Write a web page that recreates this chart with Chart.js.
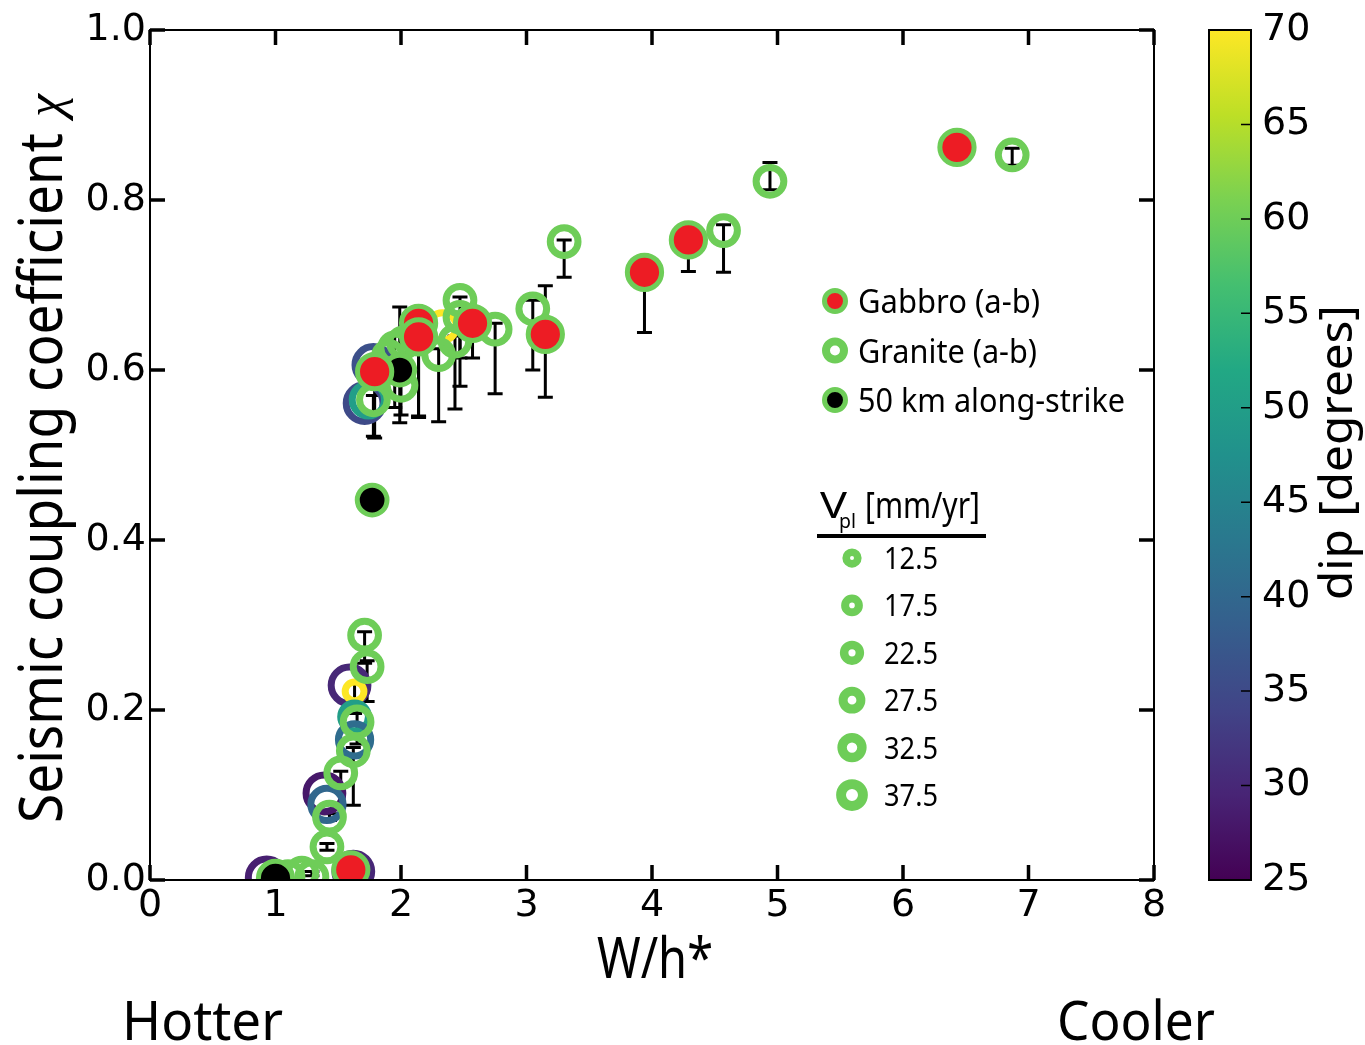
<!DOCTYPE html>
<html>
<head>
<meta charset="utf-8">
<script src="https://cdn.jsdelivr.net/npm/chart.js@4.4.0/dist/chart.umd.min.js"></script>
<style>
  html, body { margin: 0; padding: 0; background: #fff; }
</style>
</head>
<body>
<canvas id="acople" width="1365" height="1045"></canvas>
<script>
// ticks
const xTicks = [0, 1, 2, 3, 4, 5, 6, 7, 8];
const yTicks = [0, 0.2, 0.4, 0.6, 0.8, 1.0];
const dipTicks = [25, 30, 35, 40, 45, 50, 55, 60, 65, 70];

// Gabbro (a-b): W/h*, chi, error bar ends, dip [deg], Vpl [mm/yr]
const gabbroX   = [6.43, 4.29, 3.94, 3.15, 2.57, 2.14, 2.14, 1.79, 1.60];
const gabbroY   = [0.862, 0.753, 0.715, 0.642, 0.655, 0.655, 0.639, 0.598, 0.012];
const gabbroLo  = [0.855, 0.716, 0.644, 0.568, 0.614, 0.544, 0.546, 0.520, null];
const gabbroHi  = [0.868, 0.760, 0.720, 0.699, 0.662, 0.660, 0.645, 0.604, null];
const gabbroDip = [60, 60, 60, 60, 60, 60, 60, 60, 60];
const gabbroVpl = [32.5, 32.5, 32.5, 32.5, 32.5, 32.5, 32.5, 32.5, 32.5];

// Granite (a-b)
const graniteX   = [6.87, 4.94, 4.57, 3.30, 3.05, 2.75, 2.47, 2.47, 2.43, 2.30, 2.02, 1.95, 1.90, 2.00, 1.78,
                    1.71, 1.73, 1.65, 1.62, 1.52, 1.43, 1.41, 1.10, 1.21, 1.29];
const graniteY   = [0.853, 0.822, 0.764, 0.751, 0.672, 0.648, 0.682, 0.662, 0.634, 0.618, 0.632, 0.626, 0.616, 0.582, 0.565,
                    0.288, 0.251, 0.186, 0.152, 0.126, 0.074, 0.039, 0.004, 0.008, 0.004];
const graniteLo  = [0.841, 0.812, 0.715, 0.709, 0.600, 0.572, 0.581, 0.614, 0.554, 0.539, null, 0.556, null, 0.547, 0.522,
                    0.255, 0.210, 0.160, 0.088, 0.110, 0.070, 0.035, null, null, 0.005];
const graniteHi  = [0.861, 0.844, 0.771, 0.753, 0.682, 0.655, 0.686, 0.668, 0.640, 0.625, null, 0.640, null, 0.590, 0.570,
                    0.292, 0.258, 0.200, 0.156, 0.128, 0.078, 0.043, null, null, 0.010];
const graniteDip = [60, 60, 60, 60, 60, 60, 60, 60, 60, 60, 60, 60, 60, 60, 60,
                    60, 60, 60, 60, 60, 60, 60, 60, 60, 60];
const graniteVpl = [27.5, 27.5, 27.5, 27.5, 27.5, 27.5, 27.5, 27.5, 27.5, 27.5, 27.5, 27.5, 27.5, 27.5, 27.5,
                    27.5, 27.5, 27.5, 27.5, 27.5, 27.5, 27.5, 27.5, 27.5, 27.5];

// 50 km along-strike
const strikeX   = [1.99, 1.77, 1.00];
const strikeY   = [0.600, 0.447, 0.002];
const strikeLo  = [0.538, null, null];
const strikeHi  = [0.674, null, null];
const strikeDip = [60, 60, 60];
const strikeVpl = [27.5, 27.5, 32.5];

// runs with other dips
const dipRunX   = [1.71, 1.74, 1.78, 2.33, 1.59, 1.63, 1.63, 1.63, 1.39, 1.41, 0.93, 1.62];
const dipRunY   = [0.561, 0.565, 0.606, 0.651, 0.229, 0.222, 0.192, 0.165, 0.102, 0.089, 0.003, 0.010];
const dipRunLo  = [null, null, null, null, null, 0.196, null, null, null, null, null, null];
const dipRunHi  = [null, null, null, null, null, 0.232, null, null, null, null, null, null];
const dipRunDip = [35, 50, 36, 70, 30, 70, 50, 41, 28, 40, 29, 30];
const dipRunVpl = [37.5, 32.5, 37.5, 27.5, 37.5, 17.5, 27.5, 32.5, 37.5, 32.5, 37.5, 37.5];

const legendLabels = ['Gabbro (a-b)', 'Granite (a-b)', '50 km along-strike'];
const vplLegend = [12.5, 17.5, 22.5, 27.5, 32.5, 37.5];

const viridisStops = ['#440154', '#482475', '#414487', '#355f8d', '#2a788e', '#21918c',
                      '#22a884', '#44bf70', '#7ad151', '#bddf26', '#fde725'];
const RED = '#ed1c24';
const SANS = "'Noto Sans', 'Open Sans', sans-serif";
const TICKFONT = "'DejaVu Sans', sans-serif";

function hexRgb(h) {
  return [1, 3, 5].map(i => parseInt(h.slice(i, i + 2), 16));
}
function viridis(t) {
  t = Math.min(1, Math.max(0, t));
  const s = t * 10, i = Math.min(9, Math.floor(s)), f = s - i;
  const a = hexRgb(viridisStops[i]), b = hexRgb(viridisStops[i + 1]);
  const c = a.map((v, k) => Math.round(v + (b[k] - v) * f));
  return `rgb(${c[0]},${c[1]},${c[2]})`;
}
const dipColour = d => viridis((d - 25) / 45);
const GREEN = dipColour(60);

// marker outer radius from plate rate
const ringOuter = vpl => 5 + 0.45 * vpl;

function points(xs, ys) {
  return xs.map((x, i) => ({ x, y: ys[i] }));
}

function series(label, xs, ys, lo, hi, dips, vpls, face, bw, order) {
  const radii = vpls.map(v => ringOuter(v) - bw / 2);
  return {
    label,
    data: points(xs, ys),
    errLo: lo,
    errHi: hi,
    pointBackgroundColor: face,
    pointBorderColor: dips.map(dipColour),
    pointBorderWidth: bw,
    pointRadius: radii,
    pointHoverRadius: radii,
    pointHoverBorderWidth: bw,
    showLine: false,
    clip: 0,
    order
  };
}

// text squeezed to a given width
function fitText(ctx, text, x, y, font, width) {
  ctx.save();
  ctx.font = font;
  const w = ctx.measureText(text).width;
  ctx.translate(x, y);
  if (width) ctx.scale(width / w, 1);
  ctx.fillText(text, 0, 0);
  ctx.restore();
}

function ring(ctx, x, y, outer, width, face) {
  ctx.beginPath();
  ctx.arc(x, y, outer - width / 2, 0, Math.PI * 2);
  if (face) { ctx.fillStyle = face; ctx.fill(); }
  ctx.lineWidth = width;
  ctx.strokeStyle = GREEN;
  ctx.stroke();
}

const errorBars = {
  id: 'errorBars',
  beforeDatasetsDraw(chart) {
    const { ctx, chartArea: a, scales: { x, y } } = chart;
    ctx.save();
    ctx.beginPath();
    ctx.rect(a.left, a.top, a.right - a.left, a.bottom - a.top);
    ctx.clip();
    ctx.strokeStyle = '#000';
    ctx.lineWidth = 3;
    chart.data.datasets.forEach(ds => {
      ds.data.forEach((p, i) => {
        if (ds.errLo[i] == null) return;
        const px = x.getPixelForValue(p.x);
        const y0 = y.getPixelForValue(ds.errLo[i]);
        const y1 = y.getPixelForValue(ds.errHi[i]);
        ctx.beginPath();
        ctx.moveTo(px, y0); ctx.lineTo(px, y1);
        ctx.moveTo(px - 7.5, y0); ctx.lineTo(px + 7.5, y0);
        ctx.moveTo(px - 7.5, y1); ctx.lineTo(px + 7.5, y1);
        ctx.stroke();
      });
    });
    ctx.restore();
  }
};

const decor = {
  id: 'decor',
  afterDraw(chart) {
    const { ctx, chartArea: a, scales } = chart;
    const sx = scales.x, sy = scales.y, sd = scales.dip;
    ctx.save();

    // frame with inward ticks on all sides
    ctx.strokeStyle = '#000';
    ctx.lineWidth = 2;
    ctx.strokeRect(a.left, a.top, a.right - a.left, a.bottom - a.top);
    ctx.lineWidth = 3.5;
    ctx.beginPath();
    xTicks.forEach(v => {
      const p = sx.getPixelForValue(v);
      ctx.moveTo(p, a.bottom); ctx.lineTo(p, a.bottom - 15);
      ctx.moveTo(p, a.top); ctx.lineTo(p, a.top + 15);
    });
    yTicks.forEach(v => {
      const p = sy.getPixelForValue(v);
      ctx.moveTo(a.left, p); ctx.lineTo(a.left + 15, p);
      ctx.moveTo(a.right, p); ctx.lineTo(a.right - 15, p);
    });
    ctx.stroke();

    // colour bar
    const cbL = a.right + 55, cbR = a.right + 97;
    const top = sd.getPixelForValue(70), bot = sd.getPixelForValue(25);
    const grad = ctx.createLinearGradient(0, bot, 0, top);
    viridisStops.forEach((c, i) => grad.addColorStop(i / 10, c));
    ctx.fillStyle = grad;
    ctx.fillRect(cbL, top, cbR - cbL, bot - top);
    ctx.lineWidth = 2;
    ctx.strokeRect(cbL, top, cbR - cbL, bot - top);
    ctx.lineWidth = 1.5;
    ctx.beginPath();
    dipTicks.slice(1, -1).forEach(v => {
      const p = sd.getPixelForValue(v);
      ctx.moveTo(cbR, p); ctx.lineTo(cbR - 10, p);
    });
    ctx.stroke();

    ctx.fillStyle = '#000';
    ctx.textBaseline = 'alphabetic';
    ctx.textAlign = 'left';

    // axis titles
    fitText(ctx, 'W/h*', 597, 978, `56px ${SANS}`, 116);
    fitText(ctx, 'Hotter', 122, 1040, `54px ${SANS}`, 161);
    fitText(ctx, 'Cooler', 1057, 1040, `54px ${SANS}`, 158);

    ctx.save();
    ctx.translate(62, 823);
    ctx.rotate(-Math.PI / 2);
    fitText(ctx, 'Seismic coupling coefficient', 0, 0, `60px ${SANS}`, 690);
    fitText(ctx, 'χ', 706, 0, `italic 52px 'Liberation Serif', serif`);
    ctx.restore();

    ctx.save();
    ctx.translate(1352, 600);
    ctx.rotate(-Math.PI / 2);
    fitText(ctx, 'dip [degrees]', 0, 0, `46px ${SANS}`, 295);
    ctx.restore();

    // material legend
    const faces = [RED, '#fff', '#000'];
    const widths = [182, 179, 267];
    legendLabels.forEach((t, i) => {
      const y = 301 + i * 49.5;
      ring(ctx, 835, y, 13, faces[i] === '#fff' ? 8 : 5, faces[i]);
      ctx.fillStyle = '#000';
      fitText(ctx, t, 858, y + 12, `33px ${SANS}`, widths[i]);
    });

    // plate rate legend
    fitText(ctx, 'V', 820, 518, `36px ${SANS}`, 27);
    fitText(ctx, 'pl', 839, 528, `20px ${SANS}`, 17);
    fitText(ctx, '[mm/yr]', 865, 518, `36px ${SANS}`, 115);
    ctx.fillRect(817, 534, 169, 4);
    vplLegend.forEach((v, i) => {
      const y = 558 + i * 47.4;
      ring(ctx, 852, y, 6.5 + 0.25 * v, 6.5 + 0.09 * v, '#fff');
      ctx.fillStyle = '#000';
      fitText(ctx, v.toFixed(1), 884, y + 11, `30px ${SANS}`, 54);
    });

    ctx.restore();
  }
};

const tickFont = { family: TICKFONT, size: 38 };

// fixed axis boxes so the plot area sits at 150..1154 x 30..880
function fixBox(w, h) {
  return s => {
    if (w) s.width = w;
    if (h) s.height = h;
    s.paddingTop = 0; s.paddingBottom = 0;
    s.paddingLeft = 0; s.paddingRight = 0;
  };
}

new Chart(document.getElementById('acople'), {
  type: 'scatter',
  data: {
    datasets: [
      series('Gabbro (a-b)', gabbroX, gabbroY, gabbroLo, gabbroHi, gabbroDip, gabbroVpl, RED, 5, 0),
      series('50 km along-strike', strikeX, strikeY, strikeLo, strikeHi, strikeDip, strikeVpl, '#000', 5, 1),
      series('Granite (a-b)', graniteX, graniteY, graniteLo, graniteHi, graniteDip, graniteVpl, 'rgba(0,0,0,0)', 7, 2),
      series('dip', dipRunX, dipRunY, dipRunLo, dipRunHi, dipRunDip, dipRunVpl, 'rgba(0,0,0,0)', 7, 3)
    ]
  },
  options: {
    responsive: false,
    animation: false,
    layout: { padding: { top: 30, left: 0, right: 0, bottom: 0 } },
    plugins: { legend: { display: false }, tooltip: { enabled: false } },
    scales: {
      x: {
        type: 'linear', position: 'bottom', min: 0, max: 8,
        grid: { display: false, drawTicks: false }, border: { display: false },
        afterBuildTicks: s => { s.ticks = xTicks.map(value => ({ value })); },
        afterFit: fixBox(0, 165),
        ticks: { color: '#000', font: tickFont, padding: 3, autoSkip: false, maxRotation: 0, callback: v => String(v) }
      },
      y: {
        type: 'linear', position: 'left', min: 0, max: 1,
        grid: { display: false, drawTicks: false }, border: { display: false },
        afterBuildTicks: s => { s.ticks = yTicks.map(value => ({ value })); },
        afterFit: fixBox(150, 0),
        ticks: { color: '#000', font: tickFont, padding: 4, callback: v => v.toFixed(1) }
      },
      dip: {
        type: 'linear', position: 'right', min: 25, max: 70,
        grid: { display: false, drawTicks: false }, border: { display: false },
        afterBuildTicks: s => { s.ticks = dipTicks.map(value => ({ value })); },
        afterFit: fixBox(211, 0),
        ticks: { color: '#000', font: tickFont, padding: 108, callback: v => String(v) }
      }
    }
  },
  plugins: [errorBars, decor]
});
</script>
</body>
</html>
